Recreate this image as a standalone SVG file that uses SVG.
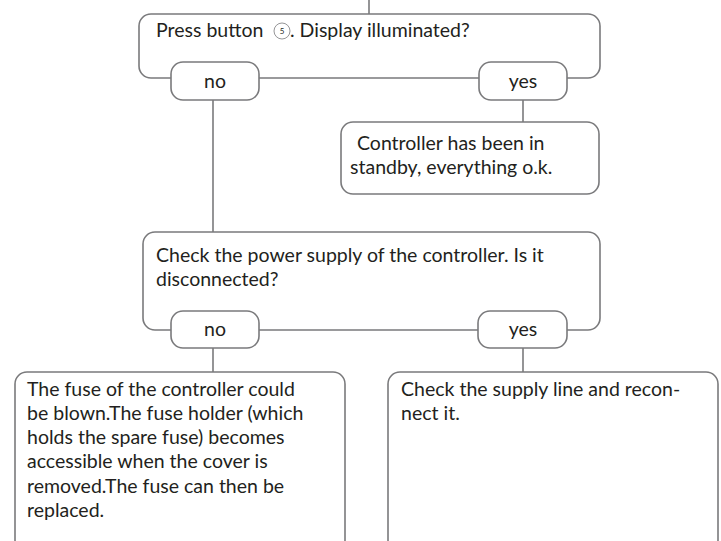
<svg xmlns="http://www.w3.org/2000/svg" width="721" height="541" viewBox="0 0 721 541">
<style>
.box{fill:#fff;stroke:#7a7a7c;stroke-width:1.6}
.pill{fill:#fff;stroke:#7a7a7c;stroke-width:1.6}
.ln{stroke:#7a7a7c;stroke-width:1.6;fill:none}
text{font-family:Lato,"Open Sans","Liberation Sans",sans-serif;font-size:19.5px;fill:#231f20}
.c{text-anchor:middle}
.num{font-size:8px;text-anchor:middle}
</style>
<rect width="721" height="541" fill="#fff"/>
<g id="connectors">
<line class="ln" x1="369" y1="0" x2="369" y2="14"/>
<line class="ln" x1="213" y1="100" x2="213" y2="232"/>
<line class="ln" x1="523" y1="100" x2="523" y2="122"/>
<line class="ln" x1="213" y1="348" x2="213" y2="372"/>
<line class="ln" x1="523" y1="348" x2="523" y2="372"/>
</g>
<g id="q1">
<rect class="box" x="139" y="14" width="461" height="64" rx="12"/>
<text x="156" y="37">Press button</text>
<circle cx="282" cy="31" r="8" fill="#fff" stroke="#7a7a7c" stroke-width="0.8"/>
<text class="num" x="282" y="34">5</text>
<text x="290" y="37">. Display illuminated?</text>
</g>
<g id="q1-no">
<rect class="pill" x="171" y="62" width="88" height="38" rx="12"/>
<text class="c" x="215" y="88">no</text>
</g>
<g id="q1-yes">
<rect class="pill" x="479" y="62" width="88" height="38" rx="12"/>
<text class="c" x="523" y="88">yes</text>
</g>
<g id="standby">
<rect class="box" x="341" y="122" width="258" height="72" rx="12"/>
<text x="352" y="150" xml:space="preserve"> Controller has been in</text>
<text x="350" y="174">standby, everything o.k.</text>
</g>
<g id="q2">
<rect class="box" x="143" y="232" width="457" height="98" rx="12"/>
<text x="156" y="262">Check the power supply of the controller. Is it</text>
<text x="156" y="286">disconnected?</text>
</g>
<g id="q2-no">
<rect class="pill" x="171" y="311" width="88" height="37" rx="12"/>
<text class="c" x="215" y="336">no</text>
</g>
<g id="q2-yes">
<rect class="pill" x="478" y="311" width="89" height="37" rx="12"/>
<text class="c" x="523" y="336">yes</text>
</g>
<g id="fuse">
<rect class="box" x="15" y="372" width="330" height="180" rx="12"/>
<text x="27" y="396">The fuse of the controller could</text>
<text x="27" y="420">be blown.The fuse holder (which</text>
<text x="27" y="444">holds the spare fuse) becomes</text>
<text x="27" y="468">accessible when the cover is</text>
<text x="27" y="493">removed.The fuse can then be</text>
<text x="27" y="517">replaced.</text>
</g>
<g id="reconnect">
<rect class="box" x="388" y="372" width="330" height="180" rx="12"/>
<text x="401" y="396">Check the supply line and recon-</text>
<text x="401" y="420">nect it.</text>
</g>
</svg>
